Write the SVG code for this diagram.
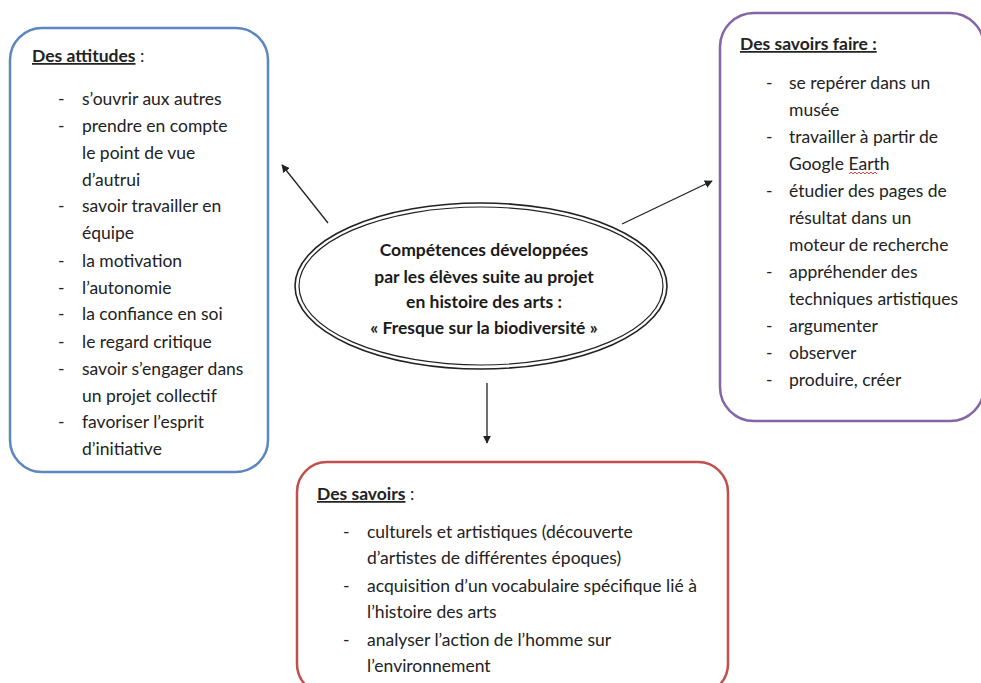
<svg xmlns="http://www.w3.org/2000/svg" width="981" height="683" viewBox="0 0 981 683">
<defs>
<style>
.t{font-family:Lato,"Open Sans","Liberation Sans",sans-serif;font-size:17.5px;fill:#222;}
.h{font-weight:bold;text-decoration:underline;}
.c{font-family:Lato,"Open Sans","Liberation Sans",sans-serif;font-size:17.5px;font-weight:bold;fill:#1a1a1a;text-anchor:middle;}
.box{fill:#fff;stroke-width:2.5;}
.conn{stroke:#222;stroke-width:1.3;fill:none;marker-end:url(#ah);}
</style>
<marker id="ah" viewBox="0 0 10 10" refX="9" refY="5" markerWidth="8" markerHeight="8" orient="auto" markerUnits="userSpaceOnUse">
<path d="M0,0 L10,5 L0,10 z" fill="#222"/>
</marker>
</defs>
<rect width="981" height="683" fill="#fff"/>
<g id="connectors">
<line class="conn" x1="328" y1="223" x2="282" y2="165"/>
<line class="conn" x1="622" y1="224" x2="712" y2="181"/>
<line class="conn" x1="487" y1="383" x2="487" y2="443"/>
</g>
<g id="attitudes">
<rect class="box" x="10" y="28" width="258" height="444" rx="32" stroke="#5B86C0"/>
<text class="t" x="32" y="62"><tspan class="h">Des attitudes</tspan> :</text>
<g class="t">
<text x="58" y="105">-</text><text x="82" y="105">s’ouvrir aux autres</text>
<text x="58" y="132">-</text><text x="82" y="132">prendre en compte</text>
<text x="82" y="159">le point de vue</text>
<text x="82" y="186">d’autrui</text>
<text x="58" y="212">-</text><text x="82" y="212">savoir travailler en</text>
<text x="82" y="239">équipe</text>
<text x="58" y="267">-</text><text x="82" y="267">la motivation</text>
<text x="58" y="294">-</text><text x="82" y="294">l’autonomie</text>
<text x="58" y="320">-</text><text x="82" y="320">la confiance en soi</text>
<text x="58" y="348">-</text><text x="82" y="348">le regard critique</text>
<text x="58" y="375">-</text><text x="82" y="375">savoir s’engager dans</text>
<text x="82" y="402">un projet collectif</text>
<text x="58" y="428">-</text><text x="82" y="428">favoriser l’esprit</text>
<text x="82" y="455">d’initiative</text>
</g>
</g>
<g id="savoirs-faire">
<rect class="box" x="720" y="13" width="264" height="408" rx="34" stroke="#8466A8"/>
<text class="t" x="740" y="50"><tspan class="h">Des savoirs faire :</tspan></text>
<g class="t">
<text x="766" y="89">-</text><text x="789" y="89">se repérer dans un</text>
<text x="789" y="116">musée</text>
<text x="766" y="143">-</text><text x="789" y="143">travailler à partir de</text>
<text x="789" y="170">Google Earth</text>
<text x="766" y="197">-</text><text x="789" y="197">étudier des pages de</text>
<text x="789" y="224">résultat dans un</text>
<text x="789" y="251">moteur de recherche</text>
<text x="766" y="278">-</text><text x="789" y="278">appréhender des</text>
<text x="789" y="305">techniques artistiques</text>
<text x="766" y="332">-</text><text x="789" y="332">argumenter</text>
<text x="766" y="359">-</text><text x="789" y="359">observer</text>
<text x="766" y="386">-</text><text x="789" y="386">produire, créer</text>
</g>
<path d="M849,174 l2,-2 l2,2 l2,-2 l2,2 l2,-2 l2,2 l2,-2 l2,2 l2,-2 l2,2 l2,-2 l2,2 l2,-2 l2,2" fill="none" stroke="#e03030" stroke-width="0.9"/>
</g>
<g id="savoirs">
<rect class="box" x="297" y="462" width="431" height="232" rx="30" stroke="#C0504D"/>
<text class="t" x="317" y="500"><tspan class="h">Des savoirs</tspan> :</text>
<g class="t">
<text x="343" y="538">-</text><text x="367" y="538">culturels et artistiques (découverte</text>
<text x="367" y="564">d’artistes de différentes époques)</text>
<text x="343" y="592">-</text><text x="367" y="592">acquisition d’un vocabulaire spécifique lié à</text>
<text x="367" y="618">l’histoire des arts</text>
<text x="343" y="646">-</text><text x="367" y="646">analyser l’action de l’homme sur</text>
<text x="367" y="672">l’environnement</text>
</g>
</g>
<g id="centre">
<ellipse cx="481" cy="286" rx="186" ry="83" fill="#fff" stroke="#222" stroke-width="1.6"/>
<ellipse cx="481" cy="286" rx="182" ry="79" fill="none" stroke="#222" stroke-width="1.2"/>
<text class="c" x="484" y="256">Compétences  développées</text>
<text class="c" x="484" y="283">par les élèves suite au projet</text>
<text class="c" x="484" y="308">en histoire des arts :</text>
<text class="c" x="484" y="334">« Fresque sur la biodiversité  »</text>
</g>
</svg>
